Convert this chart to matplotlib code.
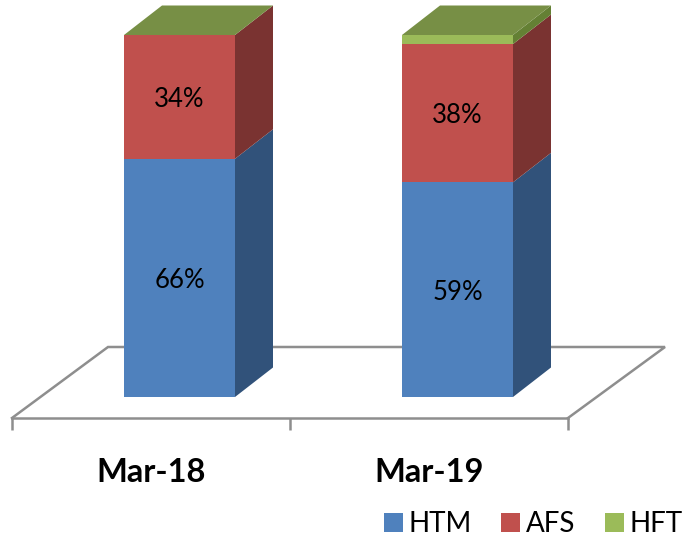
import matplotlib
matplotlib.use("Agg")
import matplotlib.pyplot as plt
from matplotlib.patches import Polygon, Patch

categories = ["Mar-18", "Mar-19"]
series_names = ["HTM", "AFS", "HFT"]
htm = [65.8, 59.3]
afs = [34.2, 38.2]
hft = [0, 2.5]
labels_htm = ["66%", "59%"]
labels_afs = ["34%", "38%"]

FRONT = ["#4F81BD", "#C0504D", "#9BBB59"]
SIDE = ["#31527A", "#7A3331", "#648034"]
TOP = "#778F45"
AXIS = "#8E8E8E"

W, H = 683, 537
fig = plt.figure(figsize=(W / 100, H / 100), dpi=100, facecolor="white")
# axes box in pixels: x 12..568, y 418 (bottom) .. 35 (top)
ax = fig.add_axes([12 / W, 1 - 418 / H, 556 / W, 383 / H])
px_y = 362 / 100          # pixels per percent
px_x = 278                # pixels per category
ax.set_xlim(-0.5, 1.5)
ax.set_ylim(-21 / px_y, 100)
ax.patch.set_visible(False)
for s in ("top", "left", "right"):
    ax.spines[s].set_visible(False)
ax.spines["bottom"].set_color(AXIS)
ax.spines["bottom"].set_linewidth(1.8)
ax.set_yticks([])
ax.set_xticks([-0.5, 0.5, 1.5])
ax.set_xticklabels([])
ax.tick_params(axis="x", which="major", length=8.5, width=1.8, color=AXIS)
ax.set_xticks([0, 1], minor=True)
ax.set_xticklabels(categories, minor=True, fontsize=23.5, fontweight="bold",
                   family="Lato", color="black")
ax.tick_params(axis="x", which="minor", length=0, pad=29)

# floor
fx, fy = 96 / px_x, 71 / px_y
y0 = -21 / px_y
ax.plot([-0.5, -0.5 + fx, 1.5 + fx + 1 / px_x, 1.5], [y0, y0 + fy, y0 + fy, y0],
        color=AXIS, lw=1.8, clip_on=False, zorder=1, solid_joinstyle="miter")

# bars: the 3D box sits back from the tick position
shift = 28.5 / px_x
half = 55.5 / px_x
dx, dy = 38 / px_x, 29.5 / px_y
for i in range(len(categories)):
    c = i + shift
    l, r = c - half, c + half
    base = 0
    for j, vals in enumerate([htm, afs, hft]):
        v = vals[i]
        if v <= 0:
            continue
        top = base + v
        ax.add_patch(Polygon([(r, base), (r + dx, base + dy), (r + dx, top + dy), (r, top)],
                             fc=SIDE[j], ec="none", clip_on=False, zorder=3))
        ax.add_patch(Polygon([(l, base), (r, base), (r, top), (l, top)],
                             fc=FRONT[j], ec="none", clip_on=False, zorder=4))
        base = top
    ax.add_patch(Polygon([(l, base), (r, base), (r + dx, base + dy), (l + dx, base + dy)],
                         fc=TOP, ec="none", clip_on=False, zorder=4))
    for txt, yv in ((labels_htm[i], htm[i] / 2), (labels_afs[i], htm[i] + afs[i] / 2)):
        ax.annotate(txt, (c, yv), xytext=(0, -2), textcoords="offset points",
                    ha="center", va="center", fontsize=18.5, family="Lato",
                    color="black", zorder=5, annotation_clip=False)

handles = [Patch(fc=c, ec="none", label=n) for c, n in zip(FRONT, series_names)]
fig.legend(handles=handles, loc="lower right", bbox_to_anchor=(1.0, 0.0), ncol=3, frameon=False,
           prop={"family": "Lato", "size": 20}, handlelength=0.68, handleheight=0.68,
           handletextpad=0.22, columnspacing=1.05, borderaxespad=0.0, borderpad=0.0)

fig.savefig("out.png", dpi=100)
